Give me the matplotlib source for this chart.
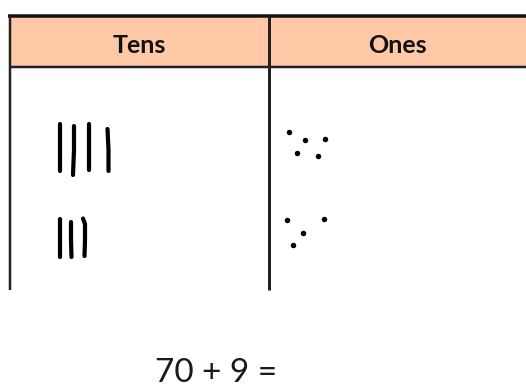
import matplotlib
matplotlib.use("Agg")
import matplotlib.pyplot as plt
from matplotlib.patches import Rectangle

# ---- data ----
headers = ["Tens", "Ones"]
tens_per_row = [4, 3]
ones_per_row = [5, 4]
equation = "70 + 9 ="

# ---- layout (pixel coordinates) ----
W, H = 526, 387
table_left, table_mid, table_right = 9.5, 268.5, 526
table_top, header_bottom, table_bottom = 15.5, 66.5, 290
row_y = [(124, 172), (219, 257)]
stroke_paths = [
    [([60, 60, 60], [124, 148, 171]),
     ([74, 74, 73], [126, 150, 175]),
     ([89, 89, 89], [124, 147, 170]),
     ([107.5, 108.5, 108.5], [129, 150, 171])],
    [([60, 60, 60], [219, 238, 257]),
     ([71, 71, 71.5], [222, 240, 257]),
     ([83, 85, 85, 84.5], [218.5, 224, 240, 256])],
]
dot_offsets = [
    [(289, 132), (305, 140), (325, 139), (297, 153), (318, 156)],
    [(287, 220), (324, 219), (303, 233), (293, 245)],
]

fig = plt.figure(figsize=(W / 100, H / 100), dpi=100)
ax = fig.add_axes([0, 0, 1, 1])
ax.set_xlim(0, W)
ax.set_ylim(H, 0)
ax.axis("off")

px = 0.72  # points per pixel

# header band
ax.add_patch(Rectangle((table_left, table_top), table_right - table_left,
                       header_bottom - table_top, facecolor="#FFC8A6",
                       edgecolor="none", zorder=1))
# table lines
ax.plot([table_left - 1.5, table_right], [table_top, table_top], color="#111111",
        lw=3.5 * px, solid_capstyle="butt", zorder=3)
ax.plot([table_left, table_right], [header_bottom, header_bottom], color="#222222",
        lw=2.5 * px, solid_capstyle="butt", zorder=3)
ax.plot([table_left, table_left], [table_top, table_bottom], color="#222222",
        lw=2.5 * px, solid_capstyle="butt", zorder=3)
ax.plot([table_mid, table_mid], [table_top, table_bottom], color="#222222",
        lw=3 * px, solid_capstyle="butt", zorder=3)

# headers
for label, (x0, x1) in zip(headers, [(table_left, table_mid), (table_mid, table_right)]):
    ax.text((x0 + x1) / 2, 53, label, ha="center", va="baseline",
            fontsize=18, fontweight="bold", family=["Lato", "DejaVu Sans"],
            color="#111111", zorder=4)

# tally strokes for tens
for r, n in enumerate(tens_per_row):
    for i in range(n):
        xs, ys = stroke_paths[r][i]
        ax.plot(xs, ys, color="black", lw=4.2 * px, solid_capstyle="round",
                solid_joinstyle="round", zorder=4)

# dots for ones
for r, n in enumerate(ones_per_row):
    pts = dot_offsets[r][:n]
    ax.plot([p[0] for p in pts], [p[1] for p in pts], "o", color="black",
            markersize=5.5 * px, markeredgewidth=0, zorder=4)

# equation
ax.text(155, 382, equation, ha="left", va="baseline", fontsize=24,
        fontweight="normal", family=["Lato", "DejaVu Sans"], color="#1a1a1a")

fig.savefig("out.png", dpi=100)
